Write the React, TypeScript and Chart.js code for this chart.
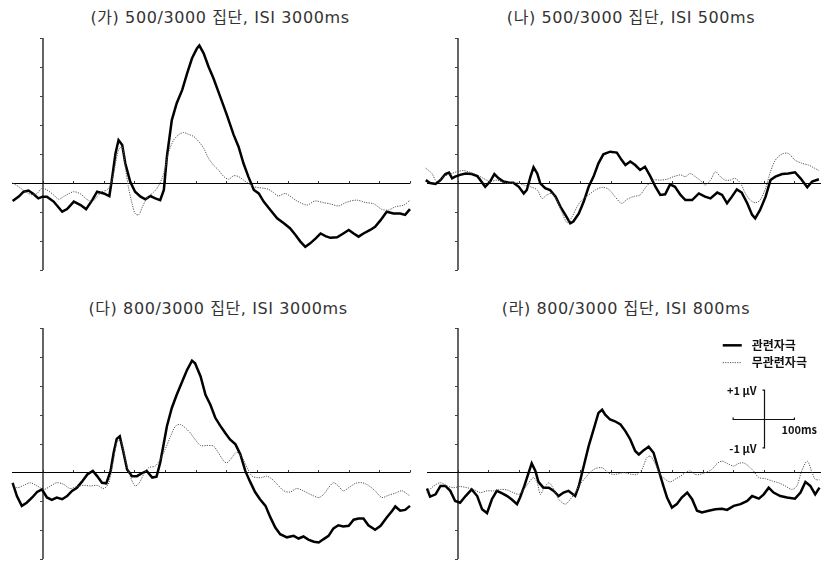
import React, { useEffect, useRef } from "react";
import { Chart, registerables } from "chart.js";
Chart.register(...registerables);

// time range (ms) and amplitude range (µV)
const X_MIN = -50;
const X_MAX = 600;
const Y_MIN = -3;
const Y_MAX = 5;
const X_TICKS = [0, 50, 100, 150, 200, 250, 300, 350, 400, 450, 500, 550, 600];
const Y_TICKS = [-3, -2, -1, 0, 1, 2, 3, 4, 5];

const TITLES = [
  "(가) 500/3000 집단, ISI 3000ms",
  "(나) 500/3000 집단, ISI 500ms",
  "(다) 800/3000 집단, ISI 3000ms",
  "(라) 800/3000 집단, ISI 800ms",
];
const LEGEND_LABELS = ["관련자극", "무관련자극"];
const SCALE_LABELS = ["+1 µV", "-1 µV", "100ms"];

// [time ms, amplitude µV]
const p1Related: [number, number][] = [
  [-49,-0.62],[-39,-0.47],[-31,-0.3],[-23,-0.26],[-15,-0.38],[-7,-0.53],[0,-0.47],[7,-0.47],[18,-0.64],[32,-0.99],
  [40,-0.9],[51,-0.64],[62,-0.76],[71,-0.9],[81,-0.59],[89,-0.3],[100,-0.36],[109,-0.45],[113,0.1],[119,1.02],
  [124,1.48],[130,1.31],[135,0.68],[143,0.05],[151,-0.3],[160,-0.47],[168,-0.56],[176,-0.45],[184,-0.53],[192,-0.59],
  [198,-0.24],[203,0.91],[211,2.17],[219,2.75],[228,3.21],[236,3.78],[244,4.3],[252,4.64],[256,4.74],[263,4.47],
  [271,4.01],[279,3.61],[290,2.98],[301,2.34],[312,1.66],[320,1.25],[328,0.68],[336,0.22],[345,-0.24],[353,-0.36],
  [361,-0.64],[372,-0.93],[383,-1.22],[394,-1.39],[404,-1.56],[413,-1.79],[421,-2.02],[429,-2.2],[437,-2.08],[446,-1.91],
  [454,-1.74],[462,-1.83],[470,-1.89],[481,-1.87],[491,-1.74],[500,-1.62],[508,-1.74],[516,-1.85],[524,-1.74],[535,-1.62],
  [543,-1.51],[552,-1.28],[562,-0.99],[573,-1.05],[584,-1.05],[592,-1.1],[600,-0.9],
];
const p1Irrelevant: [number, number][] = [
  [-49,0],[-39,-0.13],[-28,-0.3],[-17,-0.41],[-9,-0.36],[-1,-0.18],[7,-0.24],[18,-0.41],[26,-0.56],[34,-0.47],
  [42,-0.38],[51,-0.3],[62,-0.38],[72,-0.56],[81,-0.64],[89,-0.47],[97,-0.3],[105,-0.24],[111,-0.07],[116,0.33],
  [124,1.14],[130,1.25],[135,0.56],[140,-0.13],[146,-0.7],[151,-1.05],[157,-1.1],[162,-0.87],[170,-0.53],[179,-0.36],
  [187,-0.18],[195,0.16],[200,0.51],[206,1.08],[214,1.48],[222,1.66],[230,1.74],[238,1.68],[247,1.6],[255,1.43],
  [263,1.2],[271,0.85],[279,0.62],[287,0.45],[296,0.22],[304,0.13],[312,0.25],[320,0.22],[328,0.1],[336,-0.01],
  [345,-0.13],[353,-0.16],[361,-0.18],[369,-0.22],[377,-0.33],[385,-0.45],[396,-0.36],[404,-0.45],[413,-0.59],[421,-0.68],
  [432,-0.76],[445,-0.62],[459,-0.68],[470,-0.72],[483,-0.79],[497,-0.66],[513,-0.59],[527,-0.67],[541,-0.72],[554,-0.91],
  [565,-0.93],[576,-0.82],[590,-0.76],[600,-0.59],
];

const p2Related: [number, number][] = [
  [-52,0.1],[-45,0],[-36,-0.03],[-28,0.1],[-20,0.31],[-14,0.36],[-9,0.16],[-4,0.22],[4,0.28],[13,0.33],
  [23,0.31],[32,0.24],[37,0.1],[45,-0.13],[53,0.05],[60,0.31],[67,0.16],[75,0.05],[83,0.02],[91,0.01],
  [100,-0.13],[108,-0.36],[113,-0.24],[119,0.22],[124,0.54],[130,0.33],[135,-0.01],[143,-0.18],[151,-0.24],[160,-0.47],
  [168,-0.82],[176,-1.1],[184,-1.39],[189,-1.33],[198,-1.05],[206,-0.64],[214,-0.13],[222,0.22],[230,0.68],[238,0.99],
  [249,1.08],[260,1.05],[268,0.79],[274,0.62],[282,0.74],[290,0.62],[298,0.45],[306,0.56],[315,0.22],[323,-0.13],
  [331,-0.41],[339,-0.39],[347,-0.05],[355,-0.13],[364,-0.41],[372,-0.59],[383,-0.59],[394,-0.36],[404,-0.47],[413,-0.53],
  [424,-0.33],[432,-0.41],[440,-0.7],[448,-0.47],[456,-0.22],[464,-0.33],[473,-0.7],[481,-1.1],[486,-1.22],[494,-0.93],
  [503,-0.47],[511,0.1],[519,0.22],[530,0.31],[540,0.33],[551,0.37],[560,0.16],[571,-0.15],[579,0.05],[590,0.13],
];
const p2Irrelevant: [number, number][] = [
  [-52,0.51],[-42,0.33],[-34,0.05],[-23,0.22],[-12,0.31],[-1,0.39],[10,0.43],[21,0.36],[32,0.28],[42,0.16],
  [53,0.05],[64,0.1],[75,0.01],[86,-0.01],[97,0.01],[108,-0.07],[119,-0.13],[130,-0.24],[138,-0.53],[146,-0.41],
  [154,-0.36],[162,-0.59],[170,-0.99],[179,-1.37],[187,-1.16],[195,-0.82],[203,-0.59],[214,-0.41],[225,-0.24],[236,-0.15],
  [247,-0.22],[257,-0.47],[268,-0.7],[277,-0.56],[287,-0.47],[298,-0.41],[309,-0.1],[320,0.1],[331,0.1],[342,0.13],
  [353,0.22],[364,0.28],[372,0.22],[380,0.33],[388,0.22],[396,0.1],[404,-0.07],[413,0.1],[421,0.39],[429,0.22],
  [437,0.1],[445,0.1],[453,0.16],[462,-0.01],[470,-0.36],[478,-0.59],[486,-0.68],[494,-0.59],[503,-0.18],[511,0.39],
  [519,0.79],[530,1.0],[540,1.02],[551,0.79],[562,0.68],[573,0.62],[583,0.51],[590,0.43],
];

const p3Related: [number, number][] = [
  [-49,-0.36],[-42,-0.82],[-34,-1.16],[-26,-1.05],[-17,-0.87],[-9,-0.68],[-1,-0.59],[7,-0.87],[15,-0.95],[23,-0.87],
  [32,-0.93],[40,-0.82],[48,-0.64],[56,-0.53],[64,-0.33],[73,-0.07],[82,0.05],[89,-0.13],[97,-0.36],[104,-0.38],
  [111,0.05],[116,0.68],[121,1.16],[126,1.25],[131,0.79],[138,0.1],[146,-0.13],[154,-0.13],[162,-0.03],[170,0.05],
  [179,-0.18],[186,-0.15],[192,0.33],[198,1.02],[203,1.6],[211,2.23],[219,2.69],[228,3.15],[236,3.55],[244,3.87],
  [249,3.78],[258,3.32],[266,2.69],[274,2.34],[282,1.89],[290,1.62],[298,1.37],[306,1.14],[315,0.97],[323,0.62],
  [331,0.05],[339,-0.33],[347,-0.68],[355,-0.93],[364,-1.16],[372,-1.56],[380,-1.91],[388,-2.14],[399,-2.25],[410,-2.2],
  [418,-2.29],[426,-2.22],[434,-2.33],[443,-2.4],[451,-2.43],[459,-2.31],[467,-2.2],[475,-1.94],[483,-1.83],[491,-1.87],
  [500,-1.85],[508,-1.64],[516,-1.6],[524,-1.6],[532,-1.83],[543,-1.99],[552,-1.85],[562,-1.56],[571,-1.33],[576,-1.18],
  [584,-1.33],[592,-1.3],[600,-1.16],
];
const p3Irrelevant: [number, number][] = [
  [-49,-0.41],[-42,-0.53],[-31,-0.45],[-20,-0.36],[-9,-0.47],[2,-0.59],[13,-0.47],[23,-0.36],[34,-0.41],[45,-0.56],
  [56,-0.49],[67,-0.45],[78,-0.47],[89,-0.45],[100,-0.56],[108,-0.36],[116,0.45],[122,1.08],[128,1.08],[135,0.45],
  [143,-0.13],[151,-0.47],[158,-0.36],[165,-0.07],[173,0.16],[184,0.22],[192,0.45],[200,0.79],[209,1.25],[217,1.6],
  [225,1.66],[233,1.54],[241,1.37],[249,1.14],[258,0.93],[268,0.93],[279,0.91],[287,0.68],[296,0.39],[301,0.33],
  [309,0.51],[317,0.7],[326,0.51],[334,0.16],[342,-0.13],[350,-0.18],[358,-0.18],[366,-0.13],[375,-0.24],[383,-0.41],
  [394,-0.64],[404,-0.68],[415,-0.56],[426,-0.64],[440,-0.79],[451,-0.87],[459,-0.76],[467,-0.53],[475,-0.36],[483,-0.47],
  [491,-0.64],[500,-0.53],[511,-0.38],[522,-0.36],[532,-0.45],[543,-0.64],[554,-0.87],[565,-0.79],[576,-0.72],[587,-0.64],
  [600,-0.82],
];

const p4Related: [number, number][] = [
  [-50,-0.56],[-45,-0.84],[-36,-0.76],[-28,-0.47],[-20,-0.47],[-12,-0.64],[-4,-0.99],[4,-1.05],[13,-0.82],[23,-0.59],
  [32,-0.82],[40,-1.28],[48,-1.41],[56,-0.93],[64,-0.64],[72,-0.72],[81,-0.82],[89,-0.95],[97,-1.1],[102,-0.87],
  [109,-0.47],[116,-0.01],[121,0.31],[127,0.05],[132,-0.33],[140,-0.53],[149,-0.53],[157,-0.64],[165,-0.82],[173,-0.7],
  [181,-0.64],[192,-0.82],[198,-0.47],[206,0.22],[214,0.91],[222,1.48],[230,2.06],[236,2.17],[241,2.0],[249,1.83],
  [257,1.77],[266,1.66],[274,1.43],[282,1.14],[290,0.74],[296,0.62],[304,0.77],[312,0.89],[320,0.68],[328,0.1],
  [336,-0.47],[342,-0.87],[350,-1.22],[358,-1.1],[366,-0.87],[375,-0.7],[383,-0.93],[391,-1.33],[399,-1.39],[410,-1.33],
  [421,-1.28],[432,-1.26],[440,-1.3],[451,-1.16],[462,-1.1],[473,-0.99],[481,-0.82],[492,-0.91],[500,-0.76],[508,-0.53],
  [516,-0.7],[527,-0.82],[538,-0.87],[551,-0.91],[560,-0.7],[568,-0.33],[576,-0.47],[584,-0.76],[591,-0.53],
];
const p4Irrelevant: [number, number][] = [
  [-50,-0.7],[-39,-0.47],[-28,-0.36],[-17,-0.47],[-7,-0.53],[4,-0.49],[15,-0.53],[26,-0.59],[37,-0.7],[48,-0.64],
  [59,-0.64],[70,-0.59],[81,-0.61],[91,-0.7],[100,-0.76],[108,-0.59],[116,-0.36],[124,-0.18],[130,-0.36],[135,-0.76],
  [140,-0.59],[149,-0.36],[157,-0.59],[165,-0.93],[176,-1.1],[184,-0.93],[192,-0.7],[200,-0.41],[209,-0.18],[217,0.01],
  [225,0.13],[236,0.16],[247,-0.03],[257,-0.07],[271,-0.01],[285,-0.07],[293,-0.07],[301,0.1],[309,0.51],[315,0.56],
  [323,0.28],[331,-0.07],[339,-0.24],[347,-0.33],[355,-0.24],[364,-0.13],[372,-0.01],[380,0.05],[388,-0.07],[396,-0.07],
  [404,-0.01],[415,0.1],[424,0.31],[432,0.39],[440,0.31],[451,0.22],[459,0.31],[467,0.33],[475,0.22],[483,0.05],
  [492,-0.18],[503,-0.22],[514,-0.3],[524,-0.36],[535,-0.47],[546,-0.59],[554,-0.47],[562,0.05],[571,0.39],[579,-0.01],
  [584,-0.24],[591,-0.26],
];

// scale bar in panel (라): centre in data units, half-lengths
const SCALE_BAR_CENTER = { t: 500, v: 1.85 };
const SCALE_BAR_HALF_T = 50; // 100 ms total
const SCALE_BAR_HALF_V = 1; // ±1 µV

const FONT = '"Noto Sans CJK KR", "Noto Sans", sans-serif';
const TITLE_FONT = '"DejaVu Sans", "Noto Sans CJK KR", sans-serif';

type PanelProps = {
  related: [number, number][];
  irrelevant: [number, number][];
  left: number;
  top: number;
  width: number;
  height: number;
  pad: { left: number; right: number; top: number; bottom: number };
  withLegend?: boolean;
};

function Panel({ related, irrelevant, left, top, width, height, pad, withLegend }: PanelProps) {
  const ref = useRef<HTMLCanvasElement | null>(null);
  useEffect(() => {
    if (!ref.current) return;
    const axesPlugin = {
      id: "erpAxes",
      beforeDatasetsDraw(chart: any) {
        const { ctx, scales } = chart;
        const xs = scales.x;
        const ys = scales.y;
        const x0 = Math.round(xs.getPixelForValue(0));
        const y0 = Math.round(ys.getPixelForValue(0)) + 0.5;
        ctx.save();
        // y axis
        ctx.strokeStyle = "#555";
        ctx.lineWidth = 1.8;
        ctx.beginPath();
        ctx.moveTo(x0, ys.getPixelForValue(Y_MAX));
        ctx.lineTo(x0, ys.getPixelForValue(Y_MIN));
        ctx.stroke();
        ctx.lineWidth = 1;
        ctx.strokeStyle = "#444";
        for (const v of Y_TICKS) {
          const y = Math.round(ys.getPixelForValue(v)) + 0.5;
          ctx.beginPath();
          ctx.moveTo(x0 - 3, y);
          ctx.lineTo(x0, y);
          ctx.stroke();
        }
        // zero line
        ctx.strokeStyle = "#000";
        ctx.lineWidth = 1.2;
        ctx.beginPath();
        ctx.moveTo(xs.getPixelForValue(X_MIN), y0);
        ctx.lineTo(xs.getPixelForValue(X_MAX), y0);
        ctx.stroke();
        ctx.lineWidth = 1;
        ctx.strokeStyle = "#333";
        for (const t of X_TICKS) {
          const x = Math.round(xs.getPixelForValue(t)) + 0.5;
          ctx.beginPath();
          ctx.moveTo(x, y0);
          ctx.lineTo(x, y0 - 2.5);
          ctx.stroke();
        }
        ctx.restore();
      },
      afterDraw(chart: any) {
        if (!withLegend) return;
        const { ctx, scales } = chart;
        const xs = scales.x;
        const ys = scales.y;
        ctx.save();
        // legend
        const lx = xs.getPixelForValue(433);
        const ly1 = ys.getPixelForValue(4.4);
        const ly2 = ys.getPixelForValue(3.8);
        ctx.strokeStyle = "#000";
        ctx.lineWidth = 2.5;
        ctx.beginPath();
        ctx.moveTo(lx, ly1);
        ctx.lineTo(lx + 19, ly1);
        ctx.stroke();
        ctx.strokeStyle = "#555";
        ctx.lineWidth = 1;
        ctx.setLineDash([1.2, 1.2]);
        ctx.beginPath();
        ctx.moveTo(lx, ly2);
        ctx.lineTo(lx + 19, ly2);
        ctx.stroke();
        ctx.setLineDash([]);
        ctx.fillStyle = "#111";
        ctx.font = `bold 12px ${FONT}`;
        ctx.textBaseline = "middle";
        ctx.textAlign = "left";
        ctx.fillText(LEGEND_LABELS[0], lx + 29, ly1);
        ctx.fillText(LEGEND_LABELS[1], lx + 29, ly2);
        // scale bar
        const cx = Math.round(xs.getPixelForValue(SCALE_BAR_CENTER.t)) + 0.5;
        const cy = Math.round(ys.getPixelForValue(SCALE_BAR_CENTER.v)) + 0.5;
        const xl = xs.getPixelForValue(SCALE_BAR_CENTER.t - SCALE_BAR_HALF_T);
        const xr = xs.getPixelForValue(SCALE_BAR_CENTER.t + SCALE_BAR_HALF_T);
        const yt = ys.getPixelForValue(SCALE_BAR_CENTER.v + SCALE_BAR_HALF_V);
        const yb = ys.getPixelForValue(SCALE_BAR_CENTER.v - SCALE_BAR_HALF_V);
        ctx.strokeStyle = "#111";
        ctx.lineWidth = 1.2;
        ctx.beginPath();
        ctx.moveTo(cx - 2, yt);
        ctx.lineTo(cx, yt);
        ctx.lineTo(cx, yb);
        ctx.lineTo(cx - 2, yb);
        ctx.moveTo(xl, cy - 2);
        ctx.lineTo(xl, cy);
        ctx.lineTo(xr, cy);
        ctx.lineTo(xr, cy - 2);
        ctx.stroke();
        ctx.font = `bold 11px ${FONT}`;
        ctx.textAlign = "right";
        ctx.fillText(SCALE_LABELS[0], cx - 8, yt + 1);
        ctx.fillText(SCALE_LABELS[1], cx - 8, yb + 1);
        ctx.textAlign = "left";
        ctx.fillText(SCALE_LABELS[2], cx + 17, cy + 10);
        ctx.restore();
      },
    };
    const chart = new Chart(ref.current, {
      type: "line",
      data: {
        datasets: [
          {
            label: LEGEND_LABELS[1],
            data: irrelevant.map(([t, v]) => ({ x: t, y: v })),
            borderColor: "#555",
            borderWidth: 1,
            borderDash: [1.2, 1.2],
            pointRadius: 0,
            tension: 0.3,
            clip: false as any,
          },
          {
            label: LEGEND_LABELS[0],
            data: related.map(([t, v]) => ({ x: t, y: v })),
            borderColor: "#000",
            borderWidth: 2.5,
            pointRadius: 0,
            tension: 0,
            clip: false as any,
          },
        ],
      },
      options: {
        animation: false,
        responsive: false,
        maintainAspectRatio: false,
        layout: { padding: pad },
        plugins: { legend: { display: false }, tooltip: { enabled: false }, title: { display: false } },
        scales: {
          x: { type: "linear", min: X_MIN, max: X_MAX, display: false },
          y: { type: "linear", min: Y_MIN, max: Y_MAX, display: false },
        },
      },
      plugins: [axesPlugin],
    });
    return () => chart.destroy();
  }, []);
  return (
    <canvas
      ref={ref}
      width={width}
      height={height}
      style={{ position: "absolute", left, top, width, height }}
    />
  );
}

const titleStyle = (cx: number, cy: number): React.CSSProperties => ({
  position: "absolute",
  left: cx - 200,
  top: cy - 11,
  width: 400,
  height: 22,
  lineHeight: "22px",
  textAlign: "center",
  fontFamily: TITLE_FONT,
  fontSize: 16,
  letterSpacing: "0.6px",
  color: "#333",
  whiteSpace: "nowrap",
});

export default function App() {
  useEffect(() => {
    document.body.style.margin = "0";
  }, []);
  return (
    <div style={{ position: "relative", width: 821, height: 561, overflow: "hidden", background: "#fff" }}>
      <div style={titleStyle(220, 18)}>{TITLES[0]}</div>
      <div style={titleStyle(631, 18)}>{TITLES[1]}</div>
      <div style={titleStyle(218, 309)}>{TITLES[2]}</div>
      <div style={titleStyle(626, 309)}>{TITLES[3]}</div>
      <Panel related={p1Related} irrelevant={p1Irrelevant} left={0} top={30} width={420} height={250}
        pad={{ left: 12, right: 10, top: 8, bottom: 10 }} />
      <Panel related={p2Related} irrelevant={p2Irrelevant} left={420} top={30} width={405} height={250}
        pad={{ left: 7, right: 0, top: 8, bottom: 10 }} />
      <Panel related={p3Related} irrelevant={p3Irrelevant} left={0} top={320} width={420} height={250}
        pad={{ left: 12, right: 10, top: 8, bottom: 11 }} />
      <Panel related={p4Related} irrelevant={p4Irrelevant} left={420} top={320} width={405} height={250}
        pad={{ left: 7, right: 0, top: 8, bottom: 11 }} withLegend />
    </div>
  );
}
